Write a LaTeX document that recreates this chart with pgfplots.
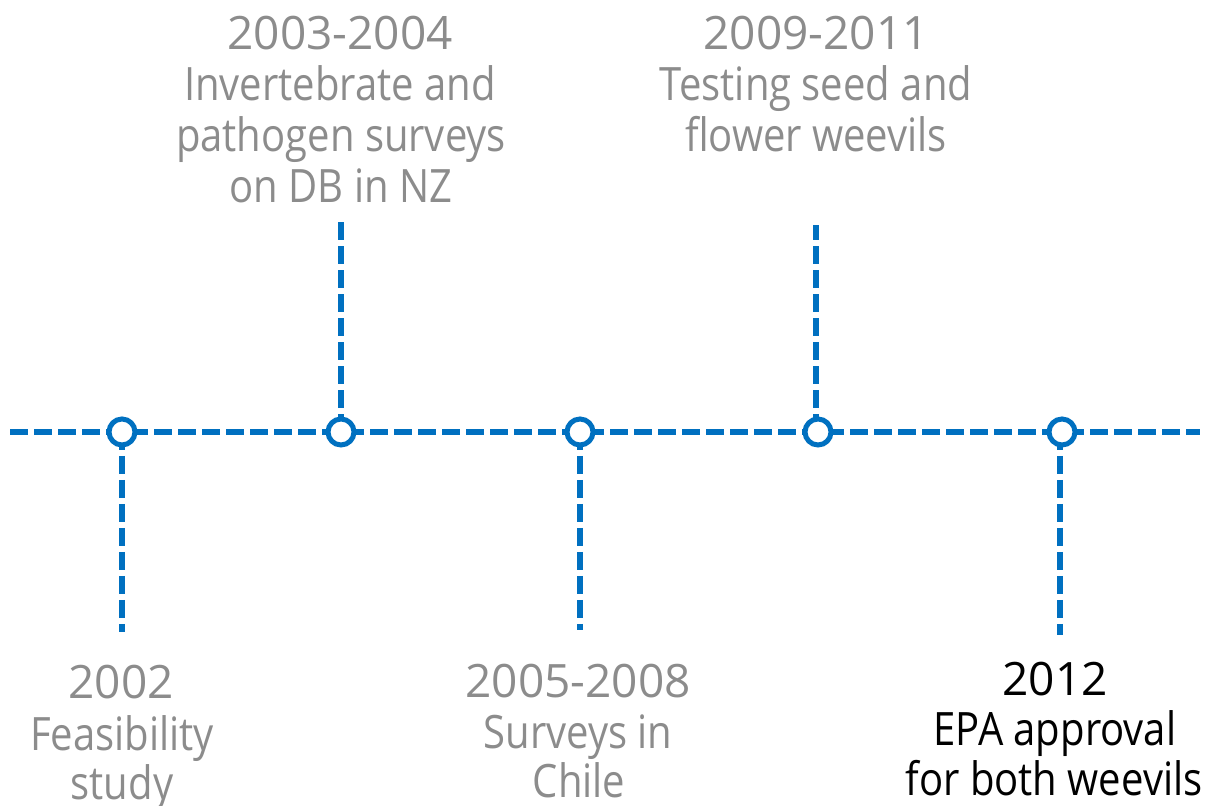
\documentclass[border=0pt]{standalone}
\usepackage{fontspec}
\setmainfont{Open Sans}
\newfontfamily\descfont{Open Sans}[FakeStretch=0.87]
\usepackage{pgfplots}
\pgfplotsset{compat=1.18}
\definecolor{tlblue}{HTML}{0070C0}
\definecolor{tlgrey}{HTML}{8C8C8C}
\newcommand{\tl}{\fontsize{27.6}{30.6}\selectfont}
\newcommand{\dl}{\descfont\fontsize{27.6}{30.6}\selectfont}
\begin{document}
\begin{tikzpicture}
\useasboundingbox (0,0) rectangle (726pt,483pt);
\begin{axis}[width=726pt,height=483pt,scale only axis,hide axis,
  xmin=0,xmax=1210,ymin=0,ymax=805,clip=false,
  every axis plot/.append style={tlblue,line width=3.6pt,dash pattern=on 10.8pt off 3.6pt}]
\addplot[no marks] coordinates {(10,373) (1200,373)};
\addplot[no marks] coordinates {(122,373) (122,173)};
\addplot[no marks] coordinates {(341,373) (341,583)};
\addplot[no marks] coordinates {(580,373) (580,175)};
\addplot[no marks] coordinates {(816,373) (816,580)};
\addplot[no marks] coordinates {(1060,373) (1060,170)};
\addplot[only marks, mark=*, mark size=7.8pt, solid,
  mark options={solid, fill=white, draw=tlblue, line width=3pt}]
  coordinates {(122,373) (341,373) (580,373) (818,373) (1062,373)};
% labels
\node[anchor=base,tlgrey,font=\tl] at (axis cs:121,107) {2002};
\node[anchor=base,tlgrey,font=\dl] at (axis cs:122,55) {Feasibility};
\node[anchor=base,tlgrey,font=\dl] at (axis cs:122,6) {study};
\node[anchor=base,tlgrey,font=\tl] at (axis cs:340,755) {2003-2004};
\node[anchor=base,tlgrey,font=\dl] at (axis cs:340,704) {Invertebrate and};
\node[anchor=base,tlgrey,font=\dl] at (axis cs:341,653) {pathogen surveys};
\node[anchor=base,tlgrey,font=\dl] at (axis cs:341,602) {on DB in NZ};
\node[anchor=base,tlgrey,font=\tl] at (axis cs:578,108) {2005-2008};
\node[anchor=base,tlgrey,font=\dl] at (axis cs:578,57) {Surveys in};
\node[anchor=base,tlgrey,font=\dl] at (axis cs:579,8) {Chile};
\node[anchor=base,tlgrey,font=\tl] at (axis cs:816,755) {2009-2011};
\node[anchor=base,tlgrey,font=\dl] at (axis cs:816,704) {Testing seed and};
\node[anchor=base,tlgrey,font=\dl] at (axis cs:816,653) {flower weevils};
\node[anchor=base,black,font=\tl] at (axis cs:1055,110) {2012};
\node[anchor=base,black,font=\dl] at (axis cs:1055,60) {EPA approval};
\node[anchor=base,black,font=\dl] at (axis cs:1054,10) {for both weevils};
\end{axis}
\end{tikzpicture}
\end{document}
